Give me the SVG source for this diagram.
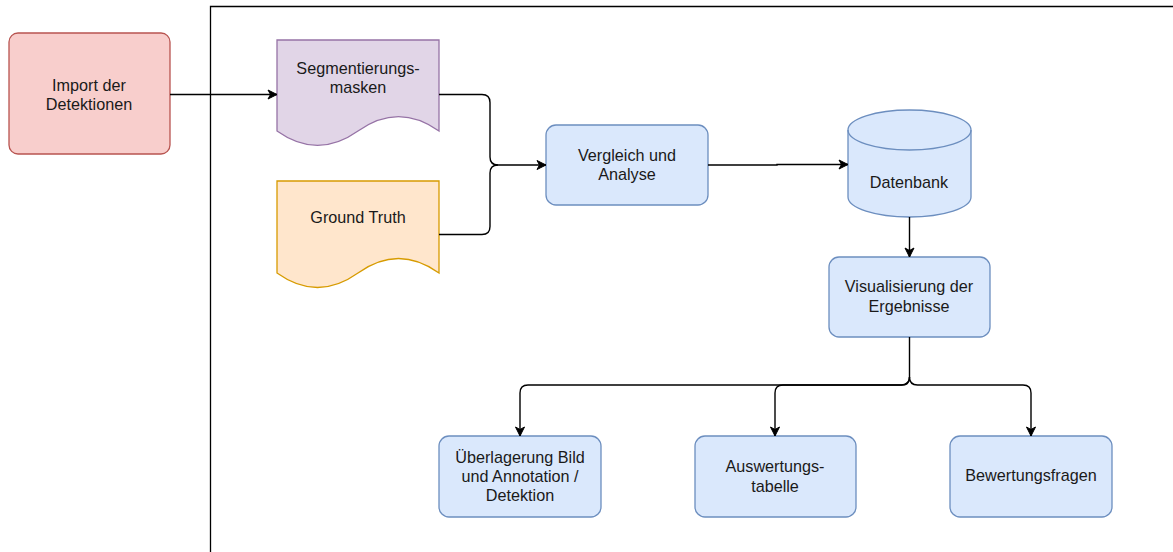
<svg xmlns="http://www.w3.org/2000/svg" width="1173" height="552" viewBox="0 0 1173 552">
<defs>
<marker id="arr" markerWidth="12" markerHeight="12" refX="10" refY="6" orient="auto" markerUnits="userSpaceOnUse">
<path d="M1,1.5 L10,6 L1,10.5 L3.5,6 Z" fill="#000" stroke="#000" stroke-width="1"/>
</marker>
<style>
text{font-family:"Liberation Sans",Arial,Helvetica,sans-serif;font-size:16.2px;fill:#1a1a1a;text-anchor:middle}
.blue{fill:#dae8fc;stroke:#6c8ebf;stroke-width:1.3}
.con{fill:none;stroke:#000;stroke-width:1.4}
</style>
</defs>
<rect width="1173" height="552" fill="#fff"/>
<path d="M210.5,552 V6.5 H1173" fill="none" stroke="#000" stroke-width="1.3"/>
<g id="import">
<rect x="9" y="33" width="161" height="121" rx="9" fill="#f8cecc" stroke="#b85450" stroke-width="1.3"/>
<text x="89" y="91">Import der</text>
<text x="89" y="110">Detektionen</text>
</g>
<g id="segmentierung">
<path d="M277,40 H439 V131 Q398.5,102.2 358,131 Q317.5,159.8 277,131 Z" fill="#e1d5e7" stroke="#9673a6" stroke-width="1.3"/>
<text x="358" y="74">Segmentierungs-</text>
<text x="358" y="93">masken</text>
</g>
<g id="groundtruth">
<path d="M277,181 H439 V273 Q398.5,244 358,273 Q317.5,302 277,273 Z" fill="#ffe6cc" stroke="#d79b00" stroke-width="1.3"/>
<text x="358" y="223">Ground Truth</text>
</g>
<g id="vergleich">
<rect class="blue" x="546" y="125" width="162" height="80" rx="10"/>
<text x="627" y="161">Vergleich und</text>
<text x="627" y="180">Analyse</text>
</g>
<g id="datenbank">
<path class="blue" d="M848,130 A61.5,20 0 0 1 971,130 V197 A61.5,20 0 0 1 848,197 Z"/>
<path d="M848,130 A61.5,20 0 0 0 971,130" fill="none" stroke="#6c8ebf" stroke-width="1.3"/>
<text x="909" y="188">Datenbank</text>
</g>
<g id="visualisierung">
<rect class="blue" x="829" y="257" width="161" height="80" rx="10"/>
<text x="909" y="292">Visualisierung der</text>
<text x="909" y="312">Ergebnisse</text>
</g>
<g id="ueberlagerung">
<rect class="blue" x="439" y="436" width="162" height="81" rx="10"/>
<text x="520" y="463">Überlagerung Bild</text>
<text x="520" y="482">und Annotation /</text>
<text x="520" y="501">Detektion</text>
</g>
<g id="auswertung">
<rect class="blue" x="695" y="436" width="161" height="81" rx="10"/>
<text x="775" y="472">Auswertungs-</text>
<text x="775" y="492">tabelle</text>
</g>
<g id="bewertung">
<rect class="blue" x="950" y="436" width="162" height="81" rx="10"/>
<text x="1031" y="481">Bewertungsfragen</text>
</g>
<g id="connectors">
<path class="con" d="M170,94.5 H277" marker-end="url(#arr)"/>
<path class="con" d="M439,94.5 H482 Q490,94.5 490,102.5 V157 Q490,165 498,165 H546" marker-end="url(#arr)"/>
<path class="con" d="M439,234.5 H482 Q490,234.5 490,226.5 V173 Q490,165 498,165"/>
<path class="con" d="M708,165 H777 V164.5 H848" marker-end="url(#arr)"/>
<path class="con" d="M909.5,217 V257" marker-end="url(#arr)"/>
<path class="con" d="M909.5,337 V377 Q909.5,385 901.5,385 H528 Q520,385 520,393 V436" marker-end="url(#arr)"/>
<path class="con" d="M909.5,377 Q909.5,385 901.5,385 H783 Q775,385 775,393 V436" marker-end="url(#arr)"/>
<path class="con" d="M909.5,377 Q909.5,385 917.5,385 H1023 Q1031,385 1031,393 V436" marker-end="url(#arr)"/>
</g>
</svg>
